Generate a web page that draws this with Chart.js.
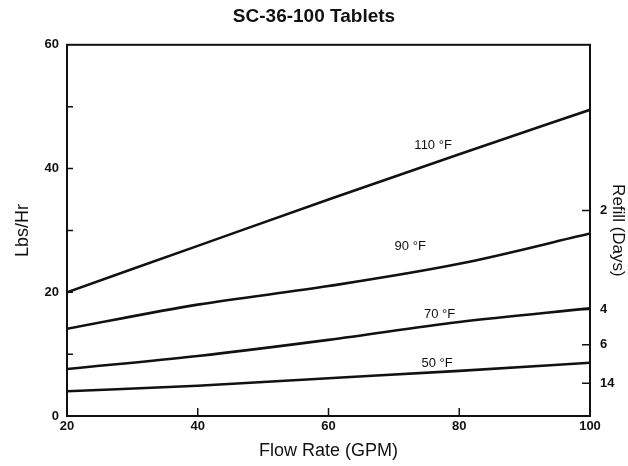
<!DOCTYPE html>
<html>
<head>
<meta charset="utf-8">
<script src="https://cdn.jsdelivr.net/npm/chart.js@4.4.0/dist/chart.umd.min.js"></script>
<style>
  html, body { margin: 0; padding: 0; background: #fff; }
  #wrap { width: 628px; height: 466px; }
</style>
</head>
<body>
<div id="wrap"><canvas id="tabletChart" width="628" height="466"></canvas></div>
<script>
// values
const flowRates = [20, 40, 60, 80, 100];
const lbsHr110 = [20, 27.5, 35, 42.3, 49.5];
const lbsHr90 = [14.1, 18, 21, 24.6, 29.5];
const lbsHr70 = [7.6, 9.7, 12.3, 15.2, 17.4];
const lbsHr50 = [4, 4.9, 6.1, 7.3, 8.6];
const tempLabels = ['110 °F', '90 °F', '70 °F', '50 °F'];
const leftTicks = [0, 20, 40, 60];
const refillDays = [2, 4, 6, 14];
const refillLbsHr = [33.2, 17.2, 11.5, 5.3];

const series = [lbsHr110, lbsHr90, lbsHr70, lbsHr50];
const FONT = "'Liberation Sans', Arial, sans-serif";

const datasets = series.map((vals, i) => ({
  label: tempLabels[i],
  data: flowRates.map((x, j) => ({ x, y: vals[j] })),
  borderColor: '#111',
  borderWidth: 2.6,
  pointRadius: 0,
  fill: false,
  cubicInterpolationMode: 'monotone',
  yAxisID: 'y',
}));

// where the curve labels sit (GPM along the curve, px above it)
const labelPlace = [
  { at: 76, lift: 18 },
  { at: 72.5, lift: 26 },
  { at: 77, lift: 10 },
  { at: 76.6, lift: 9 },
];

function valueAt(vals, x) {
  for (let j = 0; j < flowRates.length - 1; j++) {
    if (x >= flowRates[j] && x <= flowRates[j + 1]) {
      const t = (x - flowRates[j]) / (flowRates[j + 1] - flowRates[j]);
      return vals[j] + t * (vals[j + 1] - vals[j]);
    }
  }
  return vals[vals.length - 1];
}

const framePlugin = {
  id: 'frame',
  afterDraw(chart) {
    const { ctx, chartArea: a, scales } = chart;
    ctx.save();
    ctx.strokeStyle = '#111';
    ctx.lineWidth = 2;
    ctx.strokeRect(a.left, a.top, a.right - a.left, a.bottom - a.top);

    // inward tick marks
    ctx.lineWidth = 1.5;
    ctx.beginPath();
    [10, 20, 30, 40, 50].forEach(v => {
      const py = scales.y.getPixelForValue(v);
      ctx.moveTo(a.left, py); ctx.lineTo(a.left + 6, py);
    });
    [40, 60, 80].forEach(v => {
      const px = scales.x.getPixelForValue(v);
      ctx.moveTo(px, a.bottom); ctx.lineTo(px, a.bottom - 8);
    });
    refillLbsHr.forEach(v => {
      const py = scales.y2.getPixelForValue(v);
      ctx.moveTo(a.right, py); ctx.lineTo(a.right - 8, py);
    });
    ctx.stroke();

    // curve labels
    ctx.fillStyle = '#111';
    ctx.font = '13px ' + FONT;
    ctx.textAlign = 'center';
    ctx.textBaseline = 'middle';
    series.forEach((vals, i) => {
      const p = labelPlace[i];
      const px = scales.x.getPixelForValue(p.at);
      const py = scales.y.getPixelForValue(valueAt(vals, p.at)) - p.lift;
      ctx.fillText(tempLabels[i], px, py);
    });
    ctx.restore();
  }
};

new Chart(document.getElementById('tabletChart'), {
  type: 'line',
  data: { datasets },
  options: {
    responsive: false,
    animation: false,
    layout: { padding: 0 },
    plugins: {
      legend: { display: false },
      tooltip: { enabled: false },
      title: {
        display: true,
        text: 'SC-36-100 Tablets',
        color: '#111',
        font: { family: FONT, size: 19, weight: 'bold' },
        padding: { top: 5, bottom: 17 },
      },
    },
    scales: {
      x: {
        type: 'linear',
        min: 20,
        max: 100,
        afterBuildTicks: s => { s.ticks = flowRates.map(v => ({ value: v })); },
        grid: { display: false, drawTicks: false },
        border: { display: false },
        ticks: { color: '#111', padding: 3, font: { family: FONT, size: 13, weight: 'bold' } },
        title: {
          display: true,
          text: 'Flow Rate (GPM)',
          color: '#111',
          font: { family: FONT, size: 18 },
          padding: { top: 0 },
        },
        afterFit: s => { s.height = 50; },
      },
      y: {
        position: 'left',
        min: 0,
        max: 60,
        afterBuildTicks: s => { s.ticks = leftTicks.map(v => ({ value: v })); },
        grid: { display: false, drawTicks: false },
        border: { display: false },
        ticks: { color: '#111', padding: 8, font: { family: FONT, size: 13, weight: 'bold' } },
        title: {
          display: true,
          text: 'Lbs/Hr',
          color: '#111',
          font: { family: FONT, size: 18 },
          padding: { top: 12 },
        },
        afterFit: s => { s.width = 67; },
      },
      y2: {
        position: 'right',
        min: 0,
        max: 60,
        afterBuildTicks: s => { s.ticks = refillLbsHr.map(v => ({ value: v })); },
        grid: { display: false, drawTicks: false },
        border: { display: false },
        ticks: {
          color: '#111',
          padding: 10,
          font: { family: FONT, size: 13, weight: 'bold' },
          callback: (v, i) => refillDays[i],
        },
        title: {
          display: true,
          text: 'Refill (Days)',
          color: '#111',
          font: { family: FONT, size: 17 },
          padding: { top: 0 },
        },
        afterFit: s => { s.width = 38; },
      },
    },
  },
  plugins: [framePlugin],
});
</script>
</body>
</html>
